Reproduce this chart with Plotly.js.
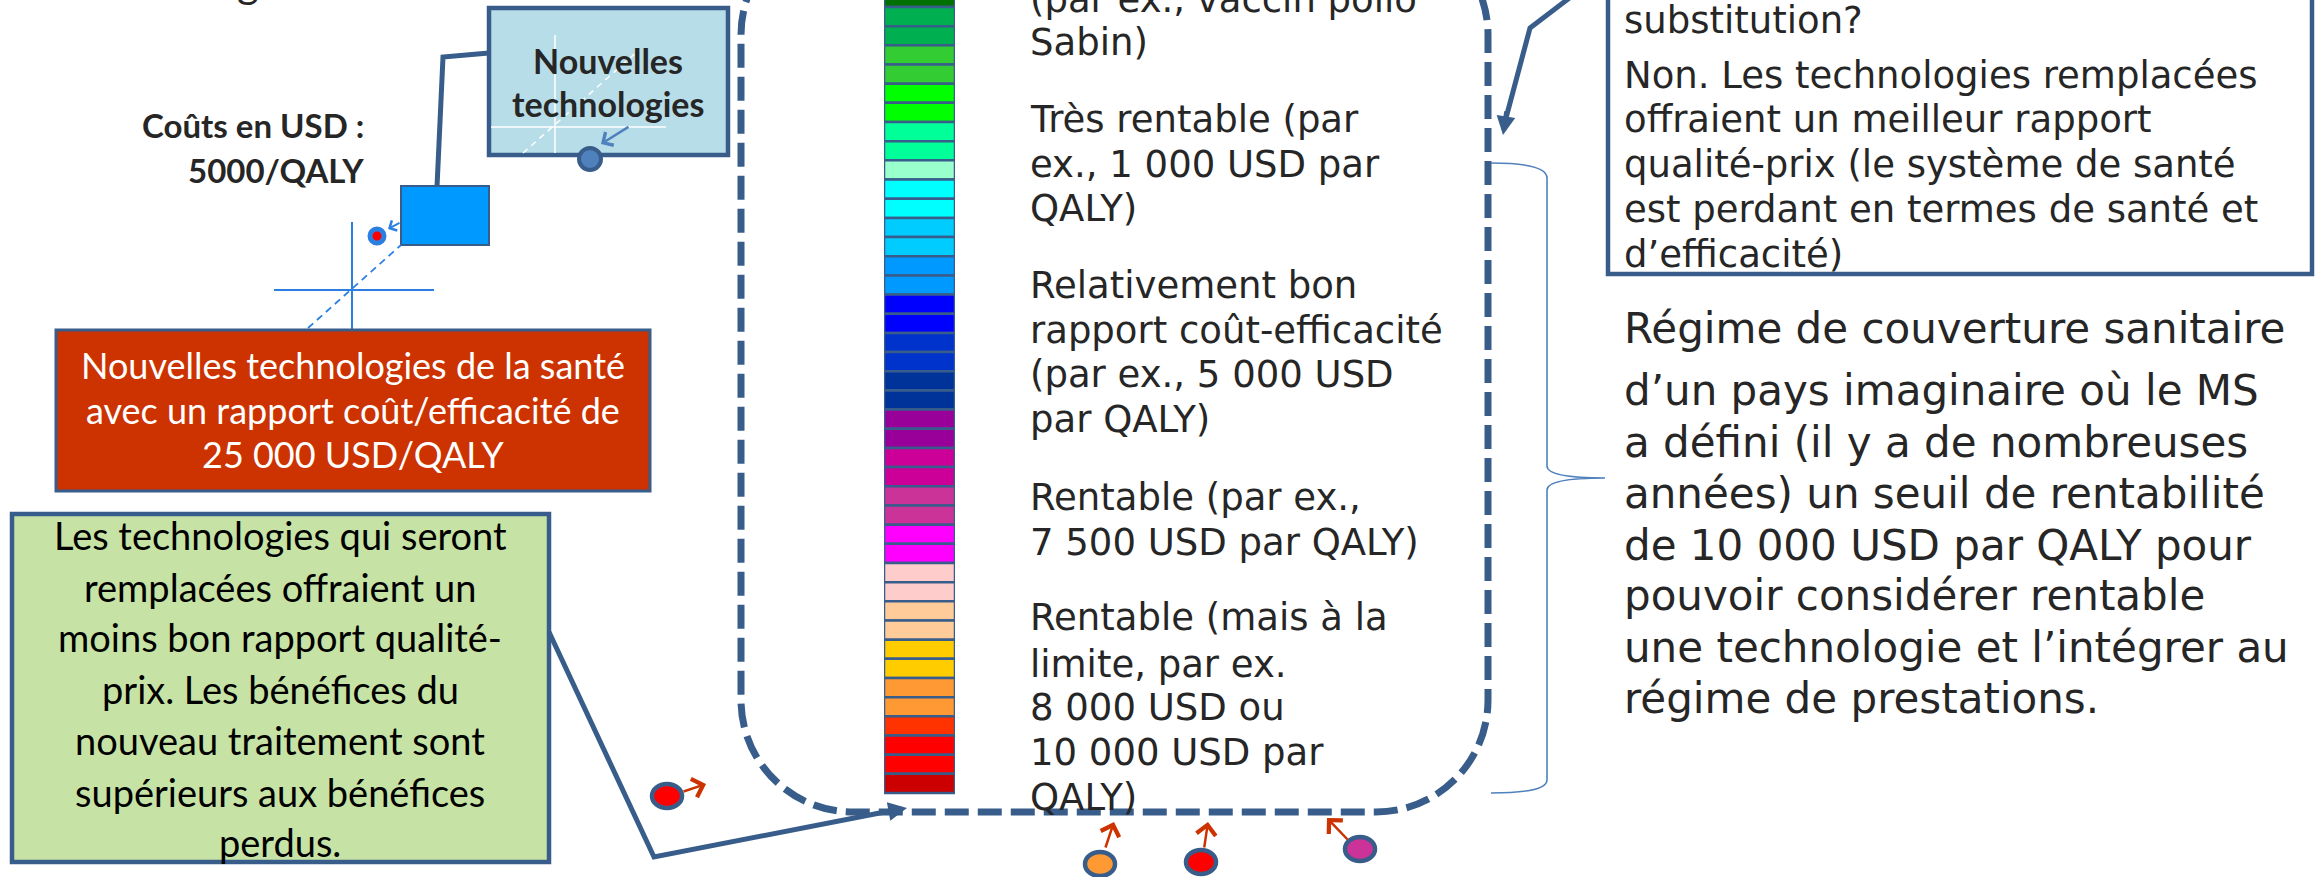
<!DOCTYPE html>
<html>
<head>
<meta charset="utf-8">
<script src="https://cdn.plot.ly/plotly-3.0.1.min.js"></script>
<style>html,body{margin:0;padding:0;background:#fff;}#chart{width:2315px;height:877px;}</style>
</head>
<body>
<div id="chart"></div>
<script>
// ---- Data: colour scale cells (top to bottom) ----
const cellColors = [
  '#007000','#00b050','#00b050','#33cc33','#33cc33','#00ff00','#00ff00','#00ff99','#00ff99',
  '#99ffcc','#00ffff','#00ffff','#00ccff','#00ccff','#0099ff','#0099ff','#0000ff','#0000ff',
  '#0033cc','#0033cc','#003399','#003399','#990099','#990099','#cc0099','#cc0099','#cc3399',
  '#cc3399','#ff00ff','#ff00ff','#ffcccc','#ffcccc','#ffcc99','#ffcc99','#ffcc00','#ffcc00',
  '#ff9933','#ff9933','#ff3300','#ff0000','#ff0000','#cc0000'
];
const cellHeights = cellColors.map(() => 1);
const cellBase = cellColors.map((c, i) => i);

// ---- Texts ----
const scaleLabels = [
  ['(par ex., vaccin polio', 12], ['Sabin)', 55],
  ['Très rentable (par', 132], ['ex., 1 000 USD par', 177], ['QALY)', 221],
  ['Relativement bon', 298], ['rapport coût-efficacité', 343], ['(par ex., 5 000 USD', 387], ['par QALY)', 432],
  ['Rentable (par ex.,', 510], ['7 500 USD par QALY)', 555],
  ['Rentable (mais à la', 630], ['limite, par ex.', 677], ['8 000 USD ou', 720], ['10 000 USD par', 765], ['QALY)', 810]
];
const questionLines = [
  ['substitution?', 33], ['Non. Les technologies remplacées', 88], ['offraient un meilleur rapport', 132],
  ['qualité-prix (le système de santé', 177], ['est perdant en termes de santé et', 222], ['d’efficacité)', 267]
];
const regimeLines = [
  ['Régime de couverture sanitaire', 343], ['d’un pays imaginaire où le MS', 405],
  ['a défini (il y a de nombreuses', 457], ['années) un seuil de rentabilité', 508],
  ['de 10 000 USD par QALY pour', 560], ['pouvoir considérer rentable', 610],
  ['une technologie et l’intégrer au', 662], ['régime de prestations.', 713]
];
const greenLines = [
  ['Les technologies qui seront', 548], ['remplacées offraient un', 600], ['moins bon rapport qualité-', 650],
  ['prix. Les bénéfices du', 702], ['nouveau traitement sont', 753], ['supérieurs aux bénéfices', 805], ['perdus.', 855]
];
const redLines = [
  ['Nouvelles technologies de la santé', 378], ['avec un rapport coût/efficacité de', 423], ['25 000 USD/QALY', 467]
];
const costLines = [['Coûts en USD :', 137], ['5000/QALY', 182]];
const newTechLines = [['Nouvelles', 72], ['technologies', 115]];

// ---- Styles ----
const W = 2315, H = 877;
const BORDER = '#385d8a';
const VERD = 'DejaVu Sans, Verdana, sans-serif';
const CALI = 'Lato, Carlito, sans-serif';
const TXT = '#262626';

const annotations = [];
function addLines(lines, x, size, family, color, anchor, weight) {
  lines.forEach(([t, base]) => {
    annotations.push({
      xref: 'paper', yref: 'paper', x: x / W, y: 1 - (base - 0.35 * size) / H, text: t, showarrow: false,
      xanchor: anchor, yanchor: 'middle', borderpad: 0,
      font: { family: family, size: size, color: color, weight: weight || 400 }
    });
  });
}
addLines(scaleLabels, 1029, 37, VERD, TXT, 'left');
addLines(questionLines, 1623, 37, VERD, TXT, 'left');
addLines(regimeLines, 1623, 42, VERD, TXT, 'left');
addLines(greenLines, 280, 38, CALI, '#000000', 'center');
addLines(redLines, 353, 36, CALI, '#ffffff', 'center');
addLines(costLines, 365, 33, CALI, TXT, 'right', 700);
addLines(newTechLines, 608, 34, CALI, TXT, 'center', 700);
addLines([['g', -3]], 248, 42, CALI, TXT, 'center');

function arrow(tailX, tailY, tipX, tipY, color, width, head, size) {
  annotations.push({
    xref: 'x', yref: 'y', axref: 'x', ayref: 'y', x: tipX, y: tipY, ax: tailX, ay: tailY,
    text: '', showarrow: true, arrowcolor: color, arrowwidth: width, arrowhead: head, arrowsize: size,
    standoff: 0, startstandoff: 0
  });
}
arrow(1507, 110, 1503, 135, BORDER, 5, 2, 0.75);          // top-right connector head
arrow(880, 813, 907, 808, BORDER, 5, 2, 0.75);            // green box connector head
arrow(630, 126, 601, 144, '#4f81bd', 2.5, 4, 1.2);        // arrow inside light-blue box
arrow(401, 222, 388, 229, '#2a7fe0', 2, 4, 1.1);          // arrow square -> dot
arrow(682, 792, 706, 784, '#cc3300', 2.5, 4, 1.5);        // left red dot
arrow(1105, 849, 1114, 822, '#cc3300', 2.5, 4, 1.5);      // orange dot
arrow(1204, 849, 1208, 822, '#cc3300', 2.5, 4, 1.5);      // red dot
arrow(1349, 841, 1327, 818, '#cc3300', 2.5, 4, 1.5);      // purple dot

// ---- Shapes ----
function rrect(x0, y0, x1, y1, r) {
  const k = 0.5523 * r;
  return `M ${x0 + r},${y0} L ${x1 - r},${y0} C ${x1 - r + k},${y0} ${x1},${y0 + r - k} ${x1},${y0 + r} ` +
    `L ${x1},${y1 - r} C ${x1},${y1 - r + k} ${x1 - r + k},${y1} ${x1 - r},${y1} ` +
    `L ${x0 + r},${y1} C ${x0 + r - k},${y1} ${x0},${y1 - r + k} ${x0},${y1 - r} ` +
    `L ${x0},${y0 + r} C ${x0},${y0 + r - k} ${x0 + r - k},${y0} ${x0 + r},${y0} Z`;
}
const shapes = [
  { type: 'path', path: rrect(741, -77, 1488, 812, 112), line: { color: BORDER, width: 7, dash: '24px,9px' } },
  { type: 'path', path: 'M 489,53 L 443,57 L 437,187', line: { color: BORDER, width: 5 } },
  { type: 'rect', x0: 489, y0: 8, x1: 728, y1: 155, fillcolor: '#b7dde8', line: { color: BORDER, width: 4.5 } },
  { type: 'line', x0: 555, y0: 35, x1: 555, y1: 153, line: { color: '#ffffff', width: 1.5 } },
  { type: 'line', x0: 491, y0: 127, x1: 666, y1: 127, line: { color: '#ffffff', width: 1.5 } },
  { type: 'line', x0: 523, y0: 153, x1: 639, y1: 50, line: { color: '#ffffff', width: 1.5, dash: '6px,5px' } },
  { type: 'circle', x0: 579, y0: 148, x1: 601, y1: 170, fillcolor: '#4f81bd', line: { color: BORDER, width: 4 } },
  { type: 'rect', x0: 401, y0: 186, x1: 489, y1: 245, fillcolor: '#0099ff', line: { color: BORDER, width: 2 } },
  { type: 'line', x0: 352, y0: 222, x1: 352, y1: 350, line: { color: '#2a7fe0', width: 2 } },
  { type: 'line', x0: 274, y0: 290, x1: 434, y1: 290, line: { color: '#2a7fe0', width: 2 } },
  { type: 'line', x0: 308, y0: 328, x1: 401, y1: 245, line: { color: '#2a7fe0', width: 1.8, dash: '7px,5px' } },
  { type: 'circle', x0: 370, y0: 229, x1: 384, y1: 243, fillcolor: '#ff0000', line: { color: '#2a7fe0', width: 5 } },
  { type: 'rect', x0: 56, y0: 330, x1: 650, y1: 491, fillcolor: '#cc3300', line: { color: BORDER, width: 3 } },
  { type: 'rect', x0: 12, y0: 514, x1: 549, y1: 862, fillcolor: '#c6e3a5', line: { color: BORDER, width: 4.5 } },
  { type: 'path', path: 'M 549,632 L 654,857 L 890,811', line: { color: BORDER, width: 5 } },
  { type: 'circle', x0: 652, y0: 784, x1: 682, y1: 808, fillcolor: '#ff0000', line: { color: BORDER, width: 4.5 } },
  { type: 'circle', x0: 1085, y0: 852, x1: 1115, y1: 876, fillcolor: '#ff9933', line: { color: BORDER, width: 4.5 } },
  { type: 'circle', x0: 1186, y0: 850, x1: 1216, y1: 874, fillcolor: '#ff0000', line: { color: BORDER, width: 4.5 } },
  { type: 'circle', x0: 1345, y0: 837, x1: 1375, y1: 861, fillcolor: '#cc3399', line: { color: BORDER, width: 4.5 } },
  { type: 'rect', x0: 1608, y0: -20, x1: 2312, y1: 274, fillcolor: 'rgba(255,255,255,0)', line: { color: BORDER, width: 4.5 } },
  { type: 'path', path: 'M 1572,-4 L 1530,28 L 1506,118', line: { color: BORDER, width: 5 } },
  { type: 'path', path: 'M 1491,163 Q 1547,163 1547,178 L 1547,466 Q 1547,478 1605,478 Q 1547,478 1547,490 L 1547,780 Q 1547,793 1491,793',
    line: { color: '#4f81bd', width: 1.6 } }
];

const traces = [
  { type: 'scatter', x: [0, 2315], y: [0, 877], mode: 'markers', marker: { opacity: 0 }, hoverinfo: 'skip', xaxis: 'x', yaxis: 'y' },
  { type: 'bar', x: cellColors.map(() => 'échelle'), y: cellHeights, base: cellBase, width: 1,
    marker: { color: cellColors, line: { color: BORDER, width: 2.5 } }, hoverinfo: 'skip', xaxis: 'x2', yaxis: 'y2' }
];

const hidden = { showgrid: false, zeroline: false, showticklabels: false, ticks: '', showline: false, fixedrange: true };
const layout = {
  width: W, height: H, margin: { l: 0, r: 0, t: 0, b: 0 },
  paper_bgcolor: '#ffffff', plot_bgcolor: 'rgba(0,0,0,0)', showlegend: false,
  xaxis: Object.assign({ range: [0, W], domain: [0, 1] }, hidden),
  yaxis: Object.assign({ range: [H, 0], domain: [0, 1] }, hidden),
  xaxis2: Object.assign({ type: 'category', range: [-0.5, 0.5], domain: [884 / W, 955 / W], anchor: 'y2' }, hidden),
  yaxis2: Object.assign({ range: [46.38, 0.635], domain: [0, 1], anchor: 'x2' }, hidden),
  shapes: shapes, annotations: annotations
};
Plotly.newPlot('chart', traces, layout, { staticPlot: true, displayModeBar: false });
</script>
</body>
</html>
